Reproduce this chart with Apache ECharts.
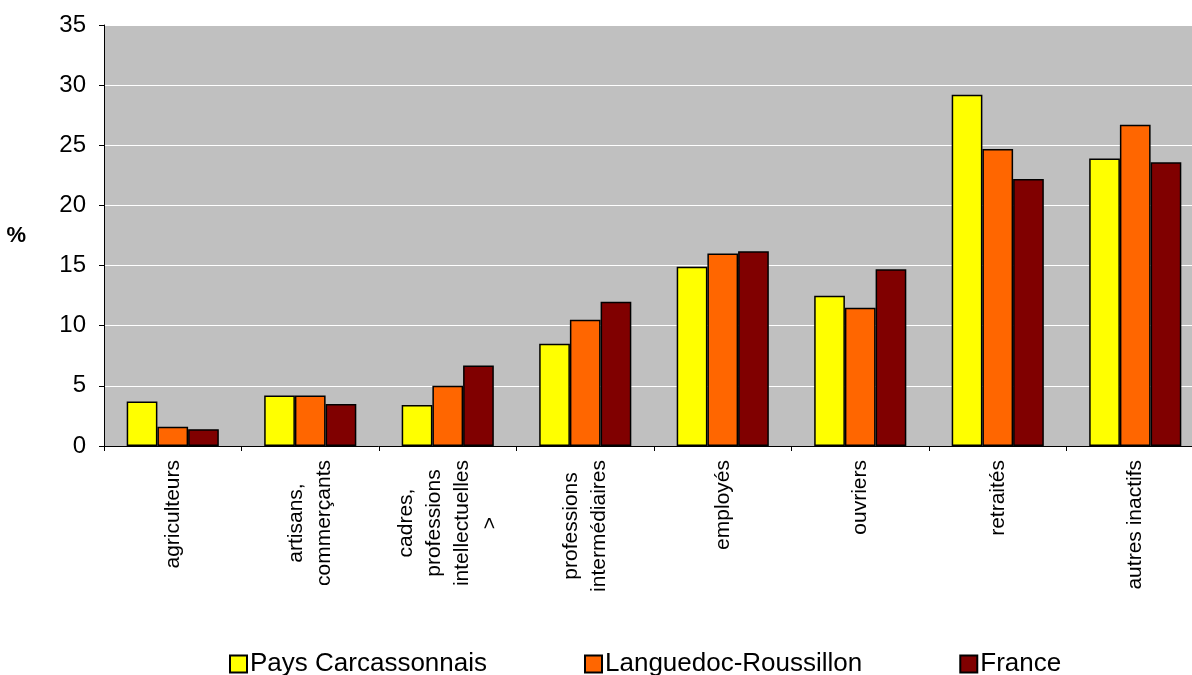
<!DOCTYPE html>
<html>
<head>
<meta charset="utf-8">
<script src="https://cdn.jsdelivr.net/npm/echarts@6/dist/echarts.min.js"></script>
<style>
html,body{margin:0;padding:0;background:#fff;overflow:hidden;width:1192px;height:675px;}
#chart{width:1204px;height:675px;}
</style>
</head>
<body>
<div id="chart"></div>
<script>
const categories = ['agriculteurs', 'artisans,\ncommerçants', 'cadres,\nprofessions\nintellectuelles\n>', 'professions\nintermédiaires', 'employés', 'ouvriers', 'retraités', 'autres inactifs'];
const seriesNames = ['Pays Carcassonnais', 'Languedoc-Roussillon', 'France'];
const paysCarcassonnais = [3.7, 4.2, 3.4, 8.5, 14.9, 12.5, 29.2, 23.9];
const languedocRoussillon = [1.6, 4.2, 5.0, 10.5, 16.0, 11.5, 24.7, 26.7];
const france = [1.4, 3.5, 6.7, 12.0, 16.2, 14.7, 22.2, 23.6];
const yTicks = [0, 5, 10, 15, 20, 25, 30, 35];

const colors = ['#FFFF00', '#FF6600', '#800000'];
const font = "'Liberation Sans', Arial, sans-serif";
const chart = echarts.init(document.getElementById('chart'), null, {renderer: 'canvas'});

function bar(name, data, color) {
  return {
    name: name, type: 'bar', data: data,
    barGap: '0%', barCategoryGap: '33%',
    itemStyle: {color: color, borderColor: '#000', borderWidth: 1.5},
    emphasis: {disabled: true}
  };
}

chart.setOption({
  animation: false,
  backgroundColor: '#fff',
  textStyle: {fontFamily: font},
  grid: {left: 104, right: 0, top: 25, bottom: 229, show: true, backgroundColor: '#C0C0C0', borderWidth: 0},
  legend: {
    data: seriesNames,
    left: 224, top: 646,
    itemWidth: 17, itemHeight: 17, itemGap: 97,
    icon: 'rect',
    textStyle: {fontFamily: font, fontSize: 26, color: '#000', padding: [0, 0, 0, -2]}
  },
  xAxis: {
    type: 'category', data: categories,
    axisLine: {lineStyle: {color: '#000', width: 1}},
    axisTick: {show: true, length: 5, alignWithLabel: false, lineStyle: {color: '#000'}},
    axisLabel: {
      rotate: 90, margin: 14, interval: 0, color: '#000',
      fontFamily: font, fontSize: 21, lineHeight: 28,
      formatter: function (v) { return v.split('\n').map(function (l) { return '{c|' + l + '}'; }).join('\n'); },
      rich: {c: {align: 'center', fontFamily: font, fontSize: 21, lineHeight: 28, color: '#000'}}
    },
    splitLine: {show: false}
  },
  yAxis: {
    type: 'value', min: yTicks[0], max: yTicks[yTicks.length - 1], interval: 5,
    name: '%', nameLocation: 'middle', nameRotate: 0, nameGap: 78,
    nameTextStyle: {fontFamily: font, fontSize: 22, fontWeight: 'bold', color: '#000'},
    axisLine: {show: true, lineStyle: {color: '#000', width: 1}},
    axisTick: {show: true, length: 5, lineStyle: {color: '#000'}},
    axisLabel: {margin: 18, color: '#000', fontFamily: font, fontSize: 24},
    splitLine: {show: true, lineStyle: {color: '#FFFFFF', width: 1}}
  },
  series: [
    bar(seriesNames[0], paysCarcassonnais, colors[0]),
    bar(seriesNames[1], languedocRoussillon, colors[1]),
    bar(seriesNames[2], france, colors[2])
  ]
});
</script>
</body>
</html>
